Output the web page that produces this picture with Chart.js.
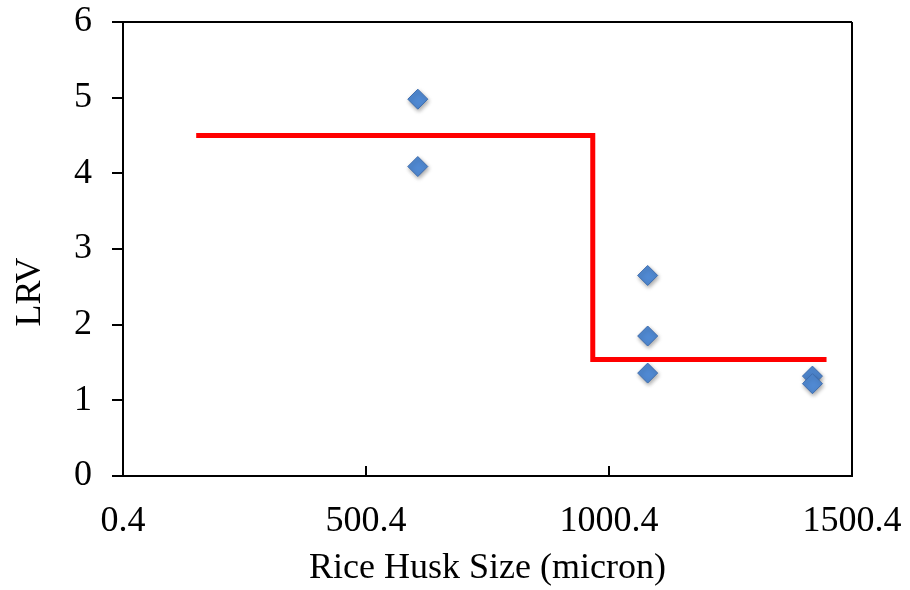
<!DOCTYPE html>
<html><head><meta charset="utf-8">
<script src="https://cdn.jsdelivr.net/npm/chart.js@4/dist/chart.umd.min.js"></script>
<style>html,body{margin:0;padding:0;background:#fff}#wrap{width:910px;height:590px}</style>
</head><body><div id="wrap"><canvas id="c" width="910" height="590"></canvas></div>
<script>
const riceHuskSize = [607, 607, 1080, 1080, 1080, 1419, 1419];
const lrvValues = [4.98, 4.09, 2.65, 1.85, 1.36, 1.32, 1.22];
const modelSize = [151, 967, 967, 1448];
const modelLrv = [4.5, 4.5, 1.54, 1.54];
const xTickValues = [0.4, 500.4, 1000.4, 1500.4];
const xTickLabels = ['0.4', '500.4', '1000.4', '1500.4'];
const yTickValues = [0, 1, 2, 3, 4, 5, 6];
const xTitle = 'Rice Husk Size (micron)';
const yTitle = 'LRV';

const FONT = '"Liberation Serif", "Times New Roman", serif';
const FS = 36;

const framePlugin = {
  id: 'frame',
  beforeDatasetsDraw(chart) {
    const {ctx, chartArea: a, scales: {x}} = chart;
    ctx.save();
    ctx.strokeStyle = '#000';
    ctx.lineWidth = 2;
    ctx.beginPath();
    ctx.moveTo(a.left, a.top);
    ctx.lineTo(a.right, a.top);
    ctx.moveTo(a.right, a.top);
    ctx.lineTo(a.right, a.bottom);
    xTickValues.forEach(v => {
      const px = Math.round(x.getPixelForValue(v));
      if (px > a.left + 2 && px < a.right - 2) {
        ctx.moveTo(px, a.bottom);
        ctx.lineTo(px, a.bottom - 10);
      }
    });
    ctx.stroke();
    ctx.restore();
  },
  beforeDatasetDraw(chart, args) {
    if (args.index === 1) {
      const ctx = chart.ctx;
      ctx.save();
      ctx.shadowColor = 'rgba(0,0,0,0.35)';
      ctx.shadowBlur = 4;
      ctx.shadowOffsetX = 1;
      ctx.shadowOffsetY = 2;
    }
  },
  afterDatasetDraw(chart, args) {
    if (args.index === 1) chart.ctx.restore();
  },
  afterDraw(chart) {
    const ctx = chart.ctx;
    ctx.save();
    ctx.fillStyle = '#000';
    ctx.font = FS + 'px ' + FONT;
    ctx.textAlign = 'center';
    ctx.textBaseline = 'middle';
    ctx.translate(31, 292);
    ctx.rotate(-Math.PI / 2);
    ctx.fillText(yTitle, 0, 0);
    ctx.restore();
  }
};

function zeroPad(s) { s.paddingTop = 0; s.paddingBottom = 0; s.paddingLeft = 0; s.paddingRight = 0; }

new Chart(document.getElementById('c'), {
  type: 'scatter',
  data: {
    datasets: [
      {
        label: 'Model',
        data: modelSize.map((v, i) => ({x: v, y: modelLrv[i]})),
        showLine: true,
        borderColor: '#FF0000',
        backgroundColor: '#FF0000',
        borderWidth: 5,
        pointRadius: 0,
        tension: 0,
        borderJoinStyle: 'miter',
        borderCapStyle: 'butt'
      },
      {
        label: 'LRV',
        data: riceHuskSize.map((v, i) => ({x: v, y: lrvValues[i]})),
        pointStyle: 'rectRot',
        pointRadius: 10,
        pointBackgroundColor: '#5089D2',
        pointBorderColor: '#3E6DAE',
        pointBorderWidth: 1
      }
    ]
  },
  options: {
    responsive: false,
    devicePixelRatio: 1,
    animation: false,
    layout: {padding: {left: 0, right: 58, top: 22, bottom: 0}},
    plugins: {legend: {display: false}, tooltip: {enabled: false}},
    scales: {
      x: {
        type: 'linear',
        min: 0.4,
        max: 1500.4,
        afterBuildTicks: s => { s.ticks = xTickValues.map(v => ({value: v})); },
        afterFit: s => { s.height = 114; zeroPad(s); },
        ticks: {
          callback: (v, i) => xTickLabels[i],
          font: {family: FONT, size: FS},
          color: '#000',
          padding: 24,
          maxRotation: 0,
          autoSkip: false
        },
        grid: {display: true, drawOnChartArea: false, drawTicks: false},
        border: {display: true, color: '#000', width: 2},
        title: {display: true, text: xTitle, font: {family: FONT, size: FS}, color: '#000', padding: {top: 0, bottom: 0}}
      },
      y: {
        min: 0,
        max: 6,
        afterBuildTicks: s => { s.ticks = yTickValues.map(v => ({value: v})); },
        afterFit: s => { s.width = 123; zeroPad(s); },
        ticks: {
          font: {family: FONT, size: FS},
          color: '#000',
          padding: 20
        },
        grid: {display: true, drawOnChartArea: false, drawTicks: true, tickLength: 11, color: '#000', lineWidth: 2},
        border: {display: true, color: '#000', width: 2}
      }
    }
  },
  plugins: [framePlugin]
});
</script>
</body></html>
